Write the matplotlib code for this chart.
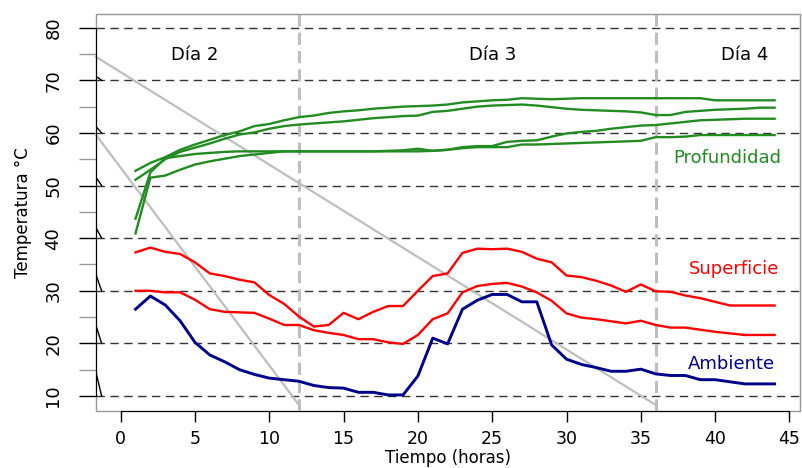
import matplotlib
matplotlib.use("Agg")
import matplotlib.pyplot as plt
from matplotlib.patches import Rectangle

plt.rcParams['font.family'] = ['DejaVu Sans']

hours = list(range(1, 45))

ambiente = [26.5, 29.0, 27.3, 24.3, 20.2, 17.8, 16.5, 15.0, 14.1, 13.4, 13.1, 12.8, 12.0, 11.6, 11.5,
            10.7, 10.7, 10.2, 10.2, 13.8, 21.0, 19.9, 26.5, 28.2, 29.3, 29.3, 27.9, 27.9, 19.7, 17.0,
            16.0, 15.4, 14.7, 14.7, 15.1, 14.2, 13.9, 13.9, 13.1, 13.1, 12.7, 12.3, 12.3, 12.3]

sup_alta = [37.3, 38.2, 37.4, 37.0, 35.4, 33.3, 32.8, 32.1, 31.6, 29.2, 27.5, 25.1, 23.2, 23.5, 25.8,
            24.6, 26.0, 27.1, 27.1, 30.0, 32.8, 33.3, 37.2, 38.0, 37.9, 38.0, 37.4, 36.1, 35.4, 32.9,
            32.6, 31.9, 31.0, 29.8, 31.2, 29.9, 29.8, 29.1, 28.6, 27.9, 27.2, 27.2, 27.2, 27.2]

sup_baja = [30.0, 30.0, 29.7, 29.7, 28.3, 26.5, 26.0, 25.9, 25.8, 24.7, 23.5, 23.5, 22.5, 22.0, 21.6,
            20.8, 20.8, 20.2, 19.9, 21.6, 24.6, 25.7, 29.7, 30.9, 31.3, 31.5, 30.8, 29.7, 28.1, 25.7,
            24.9, 24.6, 24.2, 23.8, 24.3, 23.5, 23.0, 23.0, 22.6, 22.2, 21.9, 21.6, 21.6, 21.6]

prof_1 = [52.8, 54.3, 55.4, 56.8, 57.8, 58.7, 59.6, 60.3, 61.3, 61.7, 62.4, 63.0, 63.3, 63.8, 64.1,
          64.3, 64.6, 64.8, 65.0, 65.1, 65.2, 65.4, 65.8, 66.0, 66.2, 66.3, 66.6, 66.5, 66.4, 66.5,
          66.6, 66.6, 66.6, 66.6, 66.6, 66.6, 66.6, 66.6, 66.6, 66.2, 66.2, 66.2, 66.2, 66.2]

prof_2 = [51.1, 53.0, 55.0, 56.4, 57.2, 58.0, 58.9, 59.7, 60.1, 60.8, 61.3, 61.6, 61.8, 62.0, 62.2,
          62.5, 62.8, 63.0, 63.2, 63.3, 64.0, 64.2, 64.6, 65.0, 65.2, 65.3, 65.4, 65.2, 64.9, 64.6,
          64.4, 64.3, 64.2, 64.1, 63.9, 63.4, 63.4, 64.0, 64.2, 64.4, 64.5, 64.6, 64.8, 64.8]

prof_3 = [43.7, 52.5, 55.2, 55.6, 56.0, 56.2, 56.4, 56.5, 56.5, 56.5, 56.5, 56.5, 56.5, 56.5, 56.5,
          56.5, 56.5, 56.6, 56.7, 57.0, 56.6, 56.8, 57.3, 57.5, 57.5, 58.3, 58.5, 58.6, 59.3, 59.9,
          60.2, 60.4, 60.8, 61.1, 61.4, 61.5, 61.8, 62.1, 62.4, 62.5, 62.6, 62.7, 62.7, 62.7]

prof_4 = [40.9, 51.5, 51.9, 53.0, 54.0, 54.6, 55.1, 55.6, 55.9, 56.2, 56.5, 56.5, 56.5, 56.5, 56.5,
          56.5, 56.5, 56.5, 56.5, 56.5, 56.6, 56.8, 57.1, 57.3, 57.3, 57.3, 57.8, 57.8, 57.9, 58.0,
          58.1, 58.2, 58.3, 58.4, 58.5, 59.2, 59.2, 59.3, 59.6, 59.6, 59.6, 59.6, 59.6, 59.6]

day_edges = [12, 36]
day_names = ["Día 2", "Día 3", "Día 4"]
day_x = [5, 25, 42]

# grey diagonal guides: start on the left edge, end at a day boundary
guide_start_y = [74.5, 59.7]
guide_end_x = [36, 12]
guide_end_y = 8.3

# little slashes on the left axis
slash_y = [10, 20, 30, 40, 50, 60, 70]
slash_h = [4.75, 3.6, 3.2, 2.1, 1.65, 1.3, 0.8]

green = '#228B22'
red = '#FF0000'
navy = '#00008B'
grey = '#BEBEBE'

fig = plt.figure(figsize=(8.02, 4.68), dpi=100)
ax = fig.add_axes([0.1193, 0.1218, 0.8782, 0.8489])
xmin, xmax = -1.68, 45.71
ax.set_xlim(xmin, xmax)
ax.set_ylim(7.15, 82.66)

for v in range(10, 81, 10):
    ax.axhline(v, color='#333333', lw=1, ls=(0, (6, 4)), zorder=1)
for e in day_edges:
    ax.axvline(e, color=grey, lw=2.2, ls=(0, (4, 2)), zorder=1)

for y0, x1 in zip(guide_start_y, guide_end_x):
    ax.plot([xmin, x1], [y0, guide_end_y], color=grey, lw=1.6, zorder=2, clip_on=False)

for v, h in zip(slash_y, slash_h):
    ax.plot([xmin, xmin + 0.4], [v + h, v], color='black', lw=1, zorder=2)

for s in (prof_1, prof_2, prof_3, prof_4):
    ax.plot(hours, s, color=green, lw=1.7, zorder=3)
ax.plot(hours, sup_alta, color=red, lw=1.7, zorder=3)
ax.plot(hours, sup_baja, color=red, lw=1.7, zorder=3)
ax.plot(hours, ambiente, color=navy, lw=2.1, zorder=3)

for name, xd in zip(day_names, day_x):
    ax.text(xd, 74.8, name, ha='center', va='center', fontsize=13)
ax.text(40.8, 55.3, "Profundidad", color=green, ha='center', va='center', fontsize=13)
ax.text(41.3, 34.1, "Superficie", color=red, ha='center', va='center', fontsize=13)
ax.text(41.1, 16.1, "Ambiente", color=navy, ha='center', va='center', fontsize=13)

# box in grey, axis lines in black
for side in ('top', 'right'):
    ax.spines[side].set_color('#999999')
ax.add_patch(Rectangle((0, 0), 1, 1, transform=ax.transAxes, fill=False,
                       edgecolor='#999999', lw=1, zorder=0, clip_on=False))
ax.spines['left'].set_bounds(10, 80)
ax.spines['bottom'].set_bounds(0, 45)
ax.spines['left'].set_color('black')
ax.spines['bottom'].set_color('black')

ax.set_xticks(range(0, 46, 5))
ax.set_yticks(range(10, 81, 10))
ax.set_yticks(range(15, 80, 10), minor=True)
ax.tick_params(axis='x', length=8, width=1, pad=6, labelsize=12.5)
ax.tick_params(axis='y', which='major', length=12, width=1, pad=12, labelsize=13,
               labelrotation=90)
ax.tick_params(axis='y', which='minor', length=12, width=1, color='#999999')
for lab in ax.get_yticklabels():
    lab.set_va('center')

ax.set_xlabel("Tiempo (horas)", fontsize=12)
ax.xaxis.label.set_va('center')
ax.xaxis.set_label_coords(0.5, -0.118)
ax.set_ylabel("Temperatura °C", fontsize=12)
ax.yaxis.set_label_coords(-0.09, 0.5)

fig.savefig("out.png", dpi=100)
